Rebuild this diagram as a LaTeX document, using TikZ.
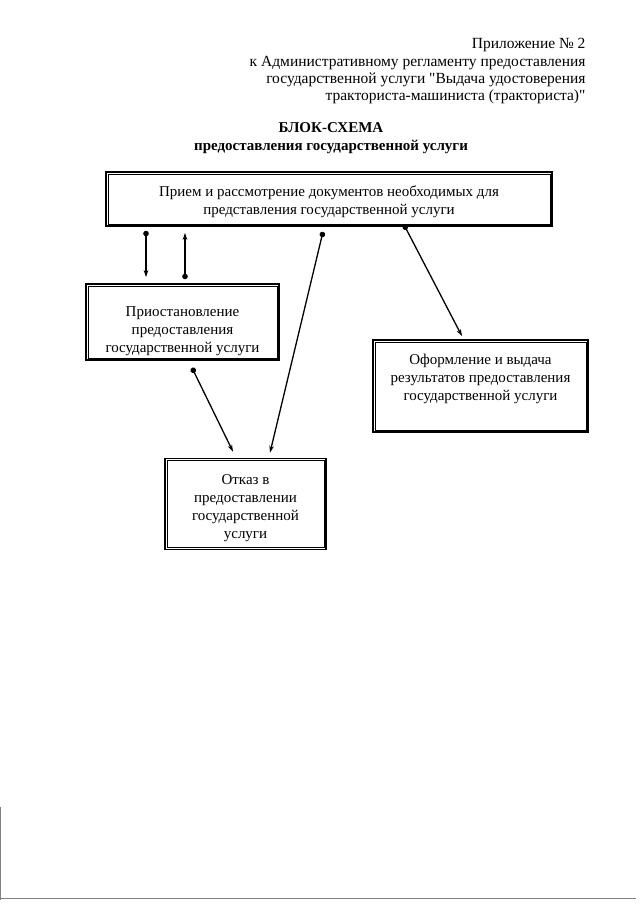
\documentclass[tikz,border=0pt]{standalone}
\usepackage{fontspec}
\setmainfont{Liberation Serif}
\usetikzlibrary{arrows.meta, positioning}
\newcommand{\lift}[1]{\rule{0pt}{#1}}

\begin{document}
\begin{tikzpicture}[x=1pt, y=-1pt,
        box/.style = {draw=black, line width=1.6pt, align=center, inner sep=2pt, font=\fontsize{15}{17.8}\selectfont},
        frame/.style = {draw=black, line width=0.6pt},
        conn/.style = {{Circle[length=5.5pt]}-{Stealth[length=7pt, width=4.5pt]}, line width=1.3pt}]
    \useasboundingbox (0,0) rectangle (640,905);
    % header
    \node[anchor=north east, align=right, font=\fontsize{15.5}{17.4}\selectfont] (head) at (589,35)
        {Приложение № 2\\к Административному регламенту предоставления\\государственной услуги \textquotedbl Выдача удостоверения\\тракториста-машиниста (тракториста)\textquotedbl};
    \node[align=center, font=\bfseries\fontsize{15}{18}\selectfont] (title) at (331,138)
        {БЛОК-СХЕМА\\предоставления государственной услуги};
    % boxes
    \node[box, minimum width=446pt, minimum height=54pt] (recv) at (329,199)
        {\lift{17pt}Прием и рассмотрение документов необходимых для\\представления государственной услуги};
    \node[box, minimum width=193pt, minimum height=76pt] (stop) at (182.5,322)
        {\lift{28pt}Приостановление\\предоставления\\государственной услуги};
    \node[box, minimum width=215pt, minimum height=92pt] (issue) at (480.5,386)
        {Оформление и выдача\\результатов предоставления\\государственной услуги\\[0pt]};
    \node[box, minimum width=161pt, minimum height=91pt] (deny) at (245.5,504)
        {\lift{18.5pt}Отказ в\\предоставлении\\государственной\\услуги};
    % inner frames
    \foreach \b in {recv, stop, issue, deny}
        \draw[frame] ([shift={(3pt,-3pt)}]\b.north west) rectangle ([shift={(-3pt,3pt)}]\b.south east);
    % arrows
    \draw[conn] ([xshift=-183pt, yshift=-4pt]recv.south) -- ([xshift=-36.5pt, yshift=6pt]stop.north);
    \draw[conn] ([xshift=2.5pt, yshift=4pt]stop.north) -- ([xshift=-144pt, yshift=-6pt]recv.south);
    \draw[conn] ([xshift=-6pt, yshift=-5pt]recv.south) -- ([xshift=24.5pt, yshift=5pt]deny.north);
    \draw[conn] ([xshift=75pt, yshift=2pt]recv.south) -- ([xshift=-18.5pt, yshift=3pt]issue.north);
    \draw[conn] ([xshift=9.5pt, yshift=-7pt]stop.south) -- ([xshift=-12.5pt, yshift=6pt]deny.north);
    % scan edge
    \draw[gray, line width=1pt] (0.5,807) -- (0.5,900);
    \draw[gray, line width=1pt] (0,898) -- (636,898);
\end{tikzpicture}
\end{document}
